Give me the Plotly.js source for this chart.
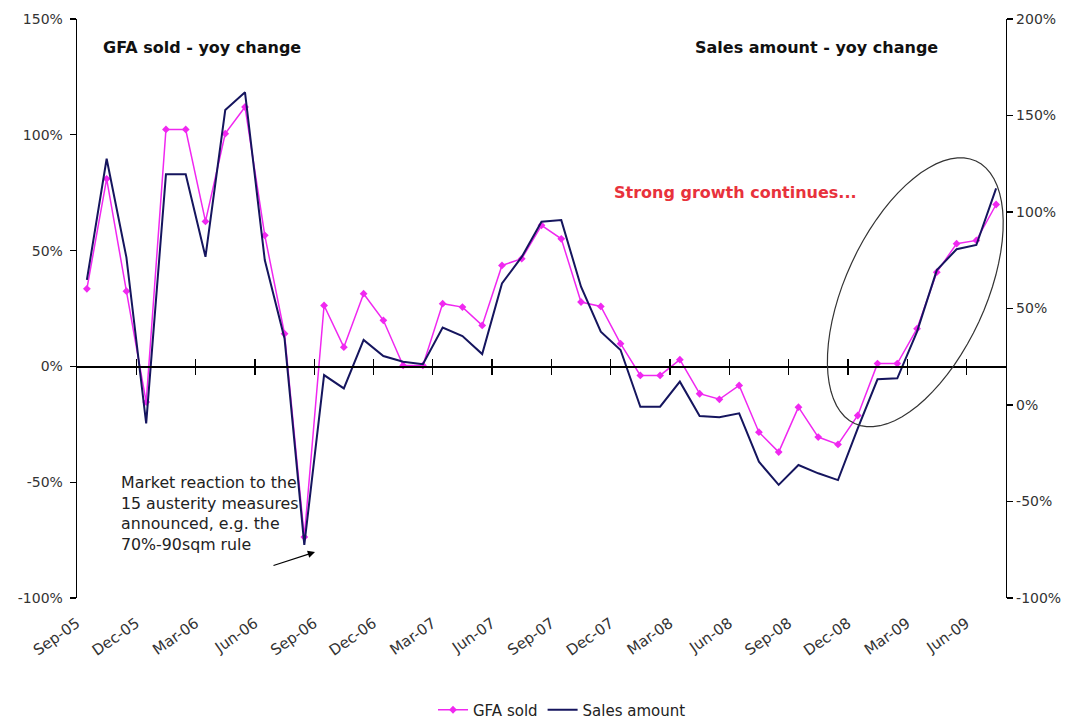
<!DOCTYPE html>
<html>
<head>
<meta charset="utf-8">
<script src="https://cdn.plot.ly/plotly-3.0.1.min.js"></script>
<style>
  html, body { margin: 0; padding: 0; background: #ffffff; }
  #chart { width: 1077px; height: 723px; }
</style>
</head>
<body>
<div id="chart"></div>
<script>
// ---- Data ----
const months = ['Sep-05','Oct-05','Nov-05','Dec-05','Jan-06','Feb-06','Mar-06','Apr-06','May-06','Jun-06',
  'Jul-06','Aug-06','Sep-06','Oct-06','Nov-06','Dec-06','Jan-07','Feb-07','Mar-07','Apr-07',
  'May-07','Jun-07','Jul-07','Aug-07','Sep-07','Oct-07','Nov-07','Dec-07','Jan-08','Feb-08',
  'Mar-08','Apr-08','May-08','Jun-08','Jul-08','Aug-08','Sep-08','Oct-08','Nov-08','Dec-08',
  'Jan-09','Feb-09','Mar-09','Apr-09','May-09','Jun-09','Jul-09'];

// GFA sold - yoy change (%), left axis
const gfaSold = [33.5, 81, 32.5, -15.4, 102.3, 102.3, 62.6, 100.5, 112, 56.6,
  14.1, -73.7, 26.3, 8.3, 31.4, 19.9, 0.4, 0.4, 27.1, 25.6,
  17.7, 43.6, 46.5, 60.9, 55.1, 27.8, 25.9, 9.8, -3.9, -3.9,
  2.9, -11.8, -14.2, -8.2, -28.4, -37, -17.6, -30.5, -33.7, -21.2,
  1.2, 1.2, 16.3, 40.7, 53, 54.4, 69.9];

// Sales amount - yoy change (%), right axis
const salesAmount = [64.8, 127.6, 76.5, -9.5, 119.5, 119.5, 76.8, 152.8, 162, 75.1,
  34.5, -72.5, 15.5, 8.6, 33.7, 25.4, 22.4, 21.1, 40.1, 35.7,
  26.4, 63, 76.7, 95, 95.8, 61.3, 38, 28.5, -0.9, -0.9,
  12.1, -5.7, -6.4, -4.3, -29.4, -41.4, -31.1, -35.4, -38.9, -12.1,
  13.3, 13.8, 38, 69.9, 80.7, 82.9, 112.2];

const tickLabels = ['Sep-05','Dec-05','Mar-06','Jun-06','Sep-06','Dec-06','Mar-07','Jun-07',
  'Sep-07','Dec-07','Mar-08','Jun-08','Sep-08','Dec-08','Mar-09','Jun-09'];

const leftTicks = [-100, -50, 0, 50, 100, 150];
const rightTicks = [-100, -50, 0, 50, 100, 150, 200];

// ---- Layout helpers ----
const W = 1077, H = 723;
const mL = 77, mR = 71, mT = 19, mB = 125;
const pw = W - mL - mR, ph = H - mT - mB;
const px = x => (x - mL) / pw;          // pixel -> paper x
const py = y => (H - mB - y) / ph;      // pixel -> paper y

const FONT = 'DejaVu Sans, Verdana, sans-serif';
const nCat = months.length;
const tickMarks = tickLabels.map((_, k) => 3 * k + 2.5).filter(v => v < nCat - 0.5);

// Ellipse around the recovery (pixel geometry)
const ecx = 915.3, ecy = 292.3, ea = 144.6, eb = 70.1, eth = 65.2 * Math.PI / 180;
let ePath = '';
for (let k = 0; k <= 72; k++) {
  const t = 2 * Math.PI * k / 72;
  const X = ecx + ea * Math.cos(t) * Math.cos(eth) + eb * Math.sin(t) * Math.sin(eth);
  const Y = ecy - ea * Math.cos(t) * Math.sin(eth) + eb * Math.sin(t) * Math.cos(eth);
  ePath += (k === 0 ? 'M' : 'L') + px(X).toFixed(5) + ',' + py(Y).toFixed(5) + ' ';
}
ePath += 'Z';

const traces = [
  {
    x: months, y: gfaSold, name: 'GFA sold', type: 'scatter', mode: 'lines+markers',
    xaxis: 'x', yaxis: 'y',
    line: { color: '#f028f0', width: 1.5 },
    marker: { symbol: 'diamond', size: 6, color: '#f028f0' }
  },
  {
    x: months, y: salesAmount, name: 'Sales amount', type: 'scatter', mode: 'lines',
    xaxis: 'x', yaxis: 'y2',
    line: { color: '#15155e', width: 2 }
  },
  { x: [], y: [], xaxis: 'x2', yaxis: 'y', showlegend: false, hoverinfo: 'skip', type: 'scatter' },
  { x: [], y: [], xaxis: 'x3', yaxis: 'y', showlegend: false, hoverinfo: 'skip', type: 'scatter' }
];

const zeroPos = (0 - (-100)) / (150 - (-100));

const layout = {
  width: W, height: H,
  margin: { l: mL, r: mR, t: mT, b: mB, pad: 0, autoexpand: false },
  paper_bgcolor: '#ffffff', plot_bgcolor: '#ffffff',
  showlegend: true,
  font: { family: FONT, color: '#222' },
  xaxis: {
    type: 'category', range: [-0.5, nCat - 0.5], automargin: false,
    tickmode: 'array', tickvals: tickLabels, ticktext: tickLabels,
    tickangle: -35, ticks: 'outside', ticklen: 10, tickcolor: 'rgba(0,0,0,0)',
    ticklabelshift: -10,
    showline: false, showgrid: false, zeroline: false,
    tickfont: { family: FONT, size: 15, color: '#333' }
  },
  xaxis2: {
    overlaying: 'x', anchor: 'free', position: zeroPos, type: 'linear',
    range: [-0.5, nCat - 0.5], tickmode: 'array', tickvals: tickMarks,
    ticks: 'outside', ticklen: 7, tickwidth: 1.3, tickcolor: '#000',
    showticklabels: false, showline: true, linecolor: '#000', linewidth: 1.3,
    showgrid: false, zeroline: false
  },
  xaxis3: {
    overlaying: 'x', anchor: 'free', position: zeroPos, type: 'linear',
    range: [-0.5, nCat - 0.5], tickmode: 'array', tickvals: tickMarks,
    ticks: 'inside', ticklen: 7, tickwidth: 1.3, tickcolor: '#000',
    showticklabels: false, showline: false, showgrid: false, zeroline: false
  },
  yaxis: {
    range: [-100, 150], tickmode: 'array', tickvals: leftTicks, automargin: false,
    ticktext: leftTicks.map(v => v + '%'),
    ticks: 'outside', ticklen: 6, tickwidth: 1.3, tickcolor: '#000',
    ticklabelstandoff: 4,
    showline: true, linecolor: '#000', linewidth: 1.3,
    showgrid: false, zeroline: false,
    tickfont: { family: FONT, size: 14, color: '#333' }
  },
  yaxis2: {
    overlaying: 'y', side: 'right', range: [-100, 200], tickmode: 'array', tickvals: rightTicks,
    automargin: false,
    ticktext: rightTicks.map(v => v + '%'),
    ticks: 'outside', ticklen: 6, tickwidth: 1.3, tickcolor: '#000',
    showline: true, linecolor: '#000', linewidth: 1.3,
    showgrid: false, zeroline: false,
    tickfont: { family: FONT, size: 14, color: '#333' }
  },
  legend: {
    orientation: 'h', xref: 'container', yref: 'container',
    x: 562 / W, xanchor: 'center', y: (H - 710) / H, yanchor: 'middle',
    font: { family: FONT, size: 15, color: '#222' }, bgcolor: 'rgba(0,0,0,0)'
  },
  shapes: [
    { type: 'path', xref: 'paper', yref: 'paper', path: ePath,
      line: { color: '#333', width: 1.2 }, fillcolor: 'rgba(0,0,0,0)' }
  ],
  annotations: [
    { xref: 'paper', yref: 'paper', x: px(101), y: py(47), xanchor: 'left', yanchor: 'middle',
      text: 'GFA sold - yoy change', showarrow: false,
      font: { family: FONT, size: 16, color: '#111', weight: 'bold' } },
    { xref: 'paper', yref: 'paper', x: px(693), y: py(47), xanchor: 'left', yanchor: 'middle',
      text: 'Sales amount - yoy change', showarrow: false,
      font: { family: FONT, size: 16, color: '#111', weight: 'bold' } },
    { xref: 'paper', yref: 'paper', x: px(612), y: py(192), xanchor: 'left', yanchor: 'middle',
      text: 'Strong growth continues...', showarrow: false,
      font: { family: FONT, size: 16, color: '#e8323c', weight: 'bold' } },
    { xref: 'paper', yref: 'paper', x: px(119), y: py(471), xanchor: 'left', yanchor: 'top',
      align: 'left', showarrow: false,
      text: 'Market reaction to the<br>15 austerity measures<br>announced, e.g. the<br>70%-90sqm rule',
      font: { family: FONT, size: 15.8, color: '#222' } },
    { xref: 'paper', yref: 'paper', x: px(315), y: py(552), text: '', showarrow: true,
      axref: 'pixel', ayref: 'pixel', ax: -43, ay: 14,
      arrowhead: 2, arrowsize: 1.2, arrowwidth: 1.2, arrowcolor: '#000' }
  ]
};

Plotly.newPlot('chart', traces, layout, { displayModeBar: false, staticPlot: true });
</script>
</body>
</html>
